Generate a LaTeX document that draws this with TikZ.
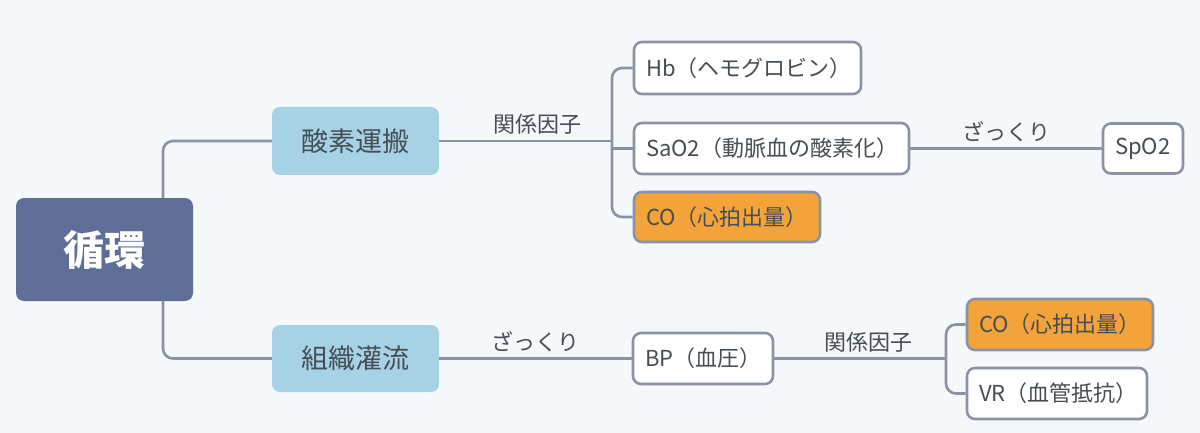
\documentclass[tikz,border=0pt]{standalone}
\usepackage{fontspec}
\setmainfont{Noto Sans CJK JP}
\definecolor{bg}{HTML}{F5F8FB}
\definecolor{linec}{HTML}{8A93A3}
\definecolor{rootc}{HTML}{5D6F96}
\definecolor{mainc}{HTML}{A5D2E4}
\definecolor{orangec}{HTML}{F2A33A}
\definecolor{txt}{HTML}{474D55}
\begin{document}
\begin{tikzpicture}[x=1pt,y=-1pt,
  conn/.style={draw=linec, line width=2.6pt},
  rootbox/.style={fill=rootc, rounded corners=8pt, text=white, font=\fontsize{41}{45}\selectfont\bfseries, inner sep=0pt},
  mainbox/.style={fill=mainc, rounded corners=8pt, text=txt, font=\fontsize{27}{31}\selectfont, inner sep=0pt},
  leaf/.style={draw=linec, line width=2.6pt, fill=white, rounded corners=8pt, text=txt, font=\fontsize{22}{26}\selectfont, inner xsep=12pt, inner ysep=0pt, align=left},
  hot/.style={leaf, fill=orangec},
  lab/.style={text=txt, font=\fontsize{22}{26}\selectfont, inner sep=0pt, anchor=south}
]
\fill[bg] (0,0) rectangle (1200,433);
\useasboundingbox (0,0) rectangle (1200,433);

\coordinate (b1) at (163,249.5);
\coordinate (b2) at (612,141);
\coordinate (b3) at (946,358.5);

\node[rootbox, minimum width=177pt, minimum height=103pt] (root) at (104.5,249.5) {循環};
\node[mainbox, minimum width=167pt, minimum height=68pt] (sanso) at (355.5,141) {酸素運搬};
\node[mainbox, minimum width=167pt, minimum height=67pt] (soshiki) at (355.5,358.5) {組織灌流};

\node[leaf, minimum width=227pt, minimum height=52pt, text width=203pt] (hb) at (747.5,68) {Hb（ヘモグロビン）};
\node[leaf, minimum width=275pt, minimum height=51pt, text width=251pt] (sao2) at (771.5,148.5) {SaO2（動脈血の酸素化）};
\node[hot, minimum width=186pt, minimum height=50pt, text width=162pt] (co1) at (727,217) {CO（心拍出量）};
\node[leaf, minimum width=80pt, minimum height=50pt, text width=56pt] (spo2) at (1143,148.5) {SpO2};
\node[leaf, minimum width=140pt, minimum height=51pt, text width=116pt] (bp) at (703,358.5) {BP（血圧）};
\node[hot, minimum width=186pt, minimum height=51pt, text width=162pt] (co2) at (1060,324.5) {CO（心拍出量）};
\node[leaf, minimum width=180pt, minimum height=51pt, text width=156pt] (vr) at (1057,393.5) {VR（血管抵抗）};

\draw[conn, rounded corners=10pt] (b1 |- root.north) |- (sanso.west);
\draw[conn, rounded corners=10pt] (b1 |- root.south) |- (soshiki.west);

\draw[conn] (sanso.east) -- (b2) node[lab, pos=0.57, yshift=5pt] {関係因子};
\draw[conn, rounded corners=10pt] (hb.west) -| (b2) |- (co1.west);
\draw[conn] (b2 |- sao2.west) -- (sao2.west);
\draw[conn] (sao2.east) -- (spo2.west) node[lab, pos=0.5, yshift=5pt] {ざっくり};

\draw[conn] (soshiki.east) -- (bp.west) node[lab, pos=0.5, yshift=5pt] {ざっくり};
\draw[conn] (bp.east) -- (b3) node[lab, pos=0.55, yshift=5pt] {関係因子};
\draw[conn, rounded corners=10pt] (co2.west) -| (b3) |- (vr.west);
\end{tikzpicture}
\end{document}
